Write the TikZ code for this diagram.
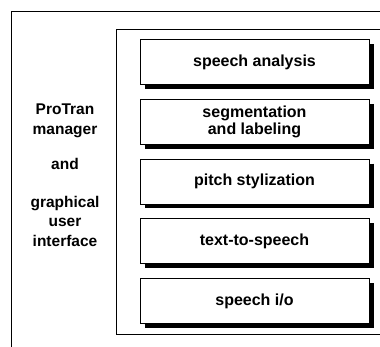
\documentclass[tikz,border=0pt]{standalone}
\usepackage{fontspec}
\setmainfont{Liberation Sans}
\usetikzlibrary{positioning}

\tikzset{
	module/.style={draw, thick, fill=white, minimum width=229pt, minimum height=45pt,
		align=center, font=\bfseries\fontsize{16}{17.5}\selectfont},
	frame/.style={draw, line width=0.8pt}
}

\begin{document}
\begin{tikzpicture}[x=1pt, y=1pt]
			\useasboundingbox (0,0) rectangle (380,347);

			% Frames
			\draw[frame] (11,-10) -- (11,336) -- (400,336);
			\draw[frame] (400,13) -- (116,13) -- (116,318) -- (400,318);

			% Manager label
			\node[align=center, font=\bfseries\fontsize{15.5}{19.5}\selectfont] (manager) at (65,172)
				{ProTran\\manager\\[16pt]and\\[18pt]graphical\\user\\interface};

			% Modules
			\node[module] (analysis) at (254.5,285) {speech analysis};
			\node[module, below=14pt of analysis] (segment) {segmentation\\and labeling};
			\node[module, below=14pt of segment] (pitch) {pitch stylization};
			\node[module, below=14pt of pitch] (tts) {text-to-speech};
			\node[module, below=14pt of tts] (io) {speech i/o};

			% Shadows
			\foreach \m in {analysis,segment,pitch,tts,io} {
				\draw[line width=5pt, line cap=butt] ([shift={(2.5,-5)}]\m.north east) -- ([shift={(2.5,-4)}]\m.south east);
				\draw[line width=4pt, line cap=butt] ([shift={(5,-2)}]\m.south west) -- ([shift={(5,-2)}]\m.south east);
			}
		\end{tikzpicture}
\end{document}
